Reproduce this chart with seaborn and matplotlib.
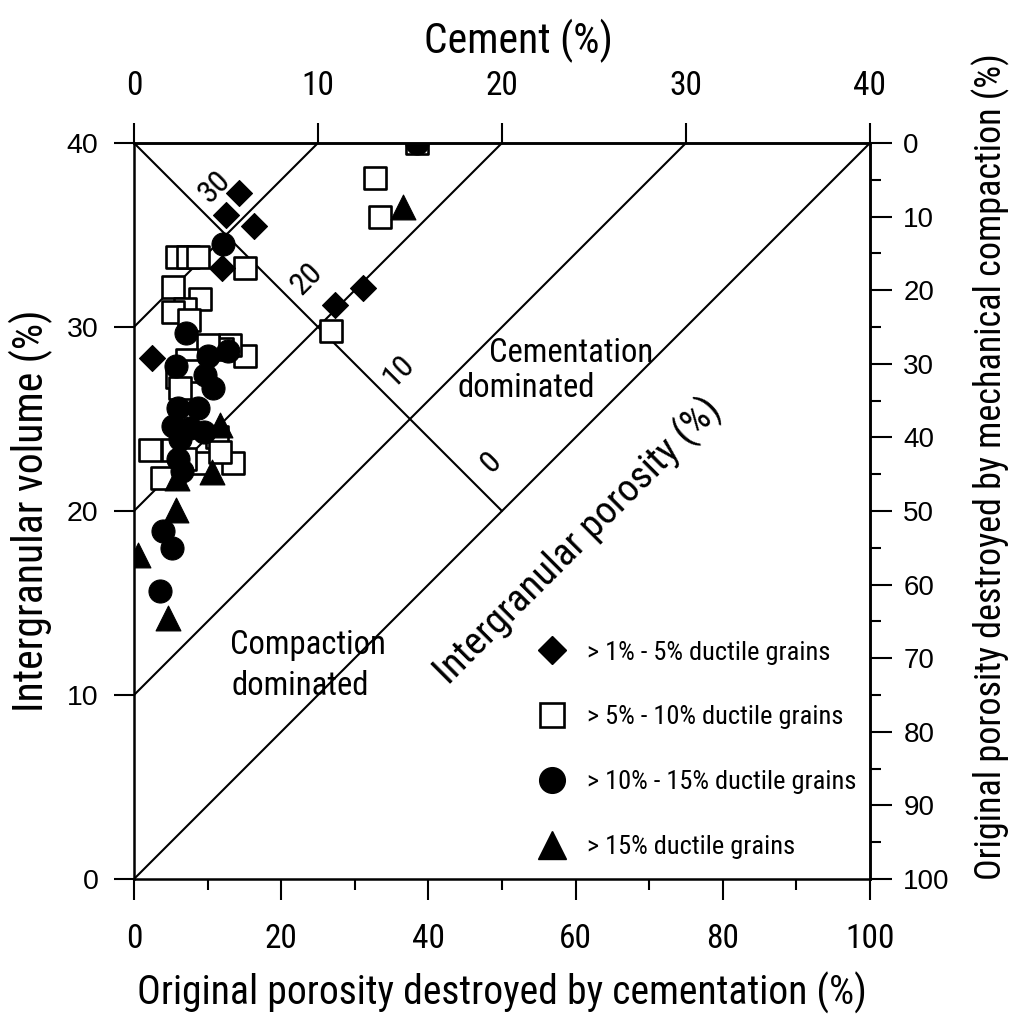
import os
import matplotlib
matplotlib.use("Agg")
import matplotlib.pyplot as plt
from matplotlib import font_manager as fm
from matplotlib.font_manager import FontProperties
from matplotlib.lines import Line2D
import pandas as pd
import seaborn as sns

# ---------------------------------------------------------------------------
# Samples: original porosity destroyed by cementation (%) vs intergranular volume (%)
# ---------------------------------------------------------------------------
diamond_cem = [14.3, 12.5, 16.3, 12.0, 2.4, 27.3, 31.1]
diamond_igv = [37.3, 36.1, 35.5, 33.2, 28.3, 31.2, 32.1]

square_cem = [38.5, 32.8, 33.4, 26.8, 5.8, 7.3, 8.7, 15.1, 5.3, 9.0, 6.9, 5.3,
              7.5, 15.1, 13.0, 12.0, 10.0, 7.2, 5.8, 7.9, 6.2, 2.2, 5.3, 11.3,
              3.8, 9.2, 13.5, 11.7, 7.0]
square_igv = [40.0, 38.1, 36.0, 29.8, 33.8, 33.8, 33.8, 33.2, 32.2, 31.5, 31.0, 30.8,
              30.4, 28.4, 29.0, 28.8, 29.0, 28.2, 27.3, 27.6, 26.7, 23.3, 23.3, 24.0,
              21.8, 22.6, 22.6, 23.2, 22.8]

circle_cem = [38.5, 12.1, 7.1, 5.7, 10.1, 12.8, 9.6, 10.7, 6.0, 8.7, 5.3, 7.6,
              9.5, 6.3, 6.0, 6.5, 3.9, 5.2, 3.5]
circle_igv = [40.0, 34.5, 29.7, 27.9, 28.4, 28.7, 27.4, 26.7, 25.6, 25.6, 24.6, 24.5,
              24.3, 23.9, 22.8, 22.2, 18.9, 18.0, 15.65]

triangle_cem = [36.5, 11.7, 5.8, 10.6, 5.7, 0.5, 4.6]
triangle_igv = [36.5, 24.7, 21.8, 22.1, 20.05, 17.6, 14.2]

group_labels = ["> 1% - 5% ductile grains", "> 5% - 10% ductile grains",
                "> 10% - 15% ductile grains", "> 15% ductile grains"]

# Axis scales
x_ticks = [0, 20, 40, 60, 80, 100]
x_minor = [10, 30, 50, 70, 90]
y_ticks = [0, 10, 20, 30, 40]
cement_ticks = [0, 10, 20, 30, 40]
compaction_ticks = [0, 10, 20, 30, 40, 50, 60, 70, 80, 90, 100]
compaction_minor = [5, 15, 25, 35, 45, 55, 65, 75, 85, 95]

# Reference lines: cement contents and intergranular porosity values
cement_levels = [10, 20, 30, 40]
porosity_labels = [30, 20, 10, 0]

# ---------------------------------------------------------------------------
sns.set_style("ticks")
plt.rcParams.update({
    "text.color": "black",
    "axes.labelcolor": "black",
    "axes.edgecolor": "black",
    "xtick.color": "black",
    "ytick.color": "black",
})


def find_font(candidates):
    files = [(os.path.basename(f.fname).lower(), f.fname) for f in fm.fontManager.ttflist]
    for pattern, scale in candidates:
        for base, path in files:
            if base == pattern:
                return path, scale
    return None, 1.0


narrow_path, NSCALE = find_font([
    ("liberationsansnarrow-regular.ttf", 1.0),
    ("notosans-condensed.ttf", 1.0),
    ("robotocondensed-regular.ttf", 1.0),
    ("notosans-semicondensed.ttf", 0.93),
    ("dejavusanscondensed.ttf", 0.88),
    ("liberationsans-regular.ttf", 0.82),
])
plain_path, _ = find_font([("liberationsans-regular.ttf", 1.0), ("arial.ttf", 1.0)])


def narrow(size):
    if narrow_path:
        return FontProperties(fname=narrow_path, size=size * NSCALE)
    return FontProperties(family="DejaVu Sans", stretch="condensed", size=size * 0.8)


def plain(size):
    if plain_path:
        return FontProperties(fname=plain_path, size=size)
    return FontProperties(family="DejaVu Sans", size=size * 0.9)


fig = plt.figure(figsize=(10.18, 10.25), dpi=100)
ax = fig.add_axes([0.1316, 0.1424, 0.7230, 0.7181])
ax.set_xlim(0, 100)
ax.set_ylim(0, 40)

LINE_W = 1.5
# Constant-cement lines
for c in cement_levels:
    ax.plot([c * 2.5, 0], [40, 40 - c], color="black", lw=LINE_W, zorder=1)
# Intergranular porosity line
ax.plot([0, 50], [40, 20], color="black", lw=LINE_W, zorder=1)
for c, p in zip(cement_levels, porosity_labels):
    ax.annotate(str(p), xy=(1.25 * c, 40 - 0.5 * c), xytext=(-8, 35),
                textcoords="offset points", rotation=45, ha="center", va="center",
                fontproperties=narrow(23))

# Scatter groups
df = pd.concat([
    pd.DataFrame({"cem": square_cem, "igv": square_igv, "grp": group_labels[1]}),
    pd.DataFrame({"cem": circle_cem, "igv": circle_igv, "grp": group_labels[2]}),
    pd.DataFrame({"cem": diamond_cem, "igv": diamond_igv, "grp": group_labels[0]}),
    pd.DataFrame({"cem": triangle_cem, "igv": triangle_igv, "grp": group_labels[3]}),
], ignore_index=True)

styles = {
    group_labels[0]: dict(marker="D", s=175, color="black", edgecolor="black", linewidth=0.8),
    group_labels[1]: dict(marker="s", s=240, color="white", edgecolor="black", linewidth=1.9),
    group_labels[2]: dict(marker="o", s=275, color="black", edgecolor="black", linewidth=0.8),
    group_labels[3]: dict(marker="^", s=320, color="black", edgecolor="black", linewidth=0.8),
}
for grp in [group_labels[1], group_labels[2], group_labels[0], group_labels[3]]:
    sub = df[df["grp"] == grp]
    sns.scatterplot(data=sub, x="cem", y="igv", ax=ax, legend=False, zorder=3,
                    **styles[grp])

# Region annotations
ax.text(59.4, 28.6, "Cementation", ha="center", va="center", fontproperties=narrow(23.5))
ax.text(53.3, 26.7, "dominated", ha="center", va="center", fontproperties=narrow(23.5))
ax.text(13.0, 12.7, "Compaction", ha="left", va="center", fontproperties=narrow(23.5))
ax.text(13.2, 10.5, "dominated", ha="left", va="center", fontproperties=narrow(23.5))
ax.text(60.3, 18.4, "Intergranular porosity (%)", ha="center", va="center",
        rotation=45, rotation_mode="anchor", fontproperties=narrow(28))

# Main axes ticks and labels
ax.set_xticks(x_ticks, labels=[str(v) for v in x_ticks], fontproperties=narrow(24))
ax.set_xticks(x_minor, minor=True)
ax.set_yticks(y_ticks, labels=[str(v) for v in y_ticks], fontproperties=plain(20.5))
ax.tick_params(axis="x", which="major", direction="out", length=15, width=1.5, pad=17)
ax.tick_params(axis="x", which="minor", direction="out", length=8, width=1.5)
ax.tick_params(axis="y", which="major", direction="out", length=14.5, width=1.5, pad=11)
ax.tick_params(axis="y", which="minor", length=0)
ax.set_xlabel("Original porosity destroyed by cementation (%)",
              fontproperties=narrow(28.5), labelpad=12)
ax.set_ylabel("Intergranular volume (%)", fontproperties=narrow(30), labelpad=10)
for sp in ax.spines.values():
    sp.set_visible(True)
    sp.set_linewidth(1.8)
    sp.set_color("black")

# Cement scale on top
secx = ax.secondary_xaxis("top", functions=(lambda x: x * 0.4, lambda c: c / 0.4))
secx.set_ticks(cement_ticks, labels=[str(v) for v in cement_ticks],
               fontproperties=narrow(24))
secx.tick_params(axis="x", which="major", direction="out", length=14.5, width=1.5, pad=15)
secx.tick_params(axis="x", which="minor", length=0)
secx.set_xlabel("Cement (%)", fontproperties=narrow(30), labelpad=12, x=0.523)
secx.spines["top"].set_linewidth(1.8)

# Compaction scale on the right
secy = ax.secondary_yaxis("right", functions=(lambda y: (40 - y) * 2.5,
                                              lambda p: 40 - p / 2.5))
secy.set_ticks(compaction_ticks, labels=[str(v) for v in compaction_ticks],
               fontproperties=plain(20))
secy.set_ticks(compaction_minor, minor=True)
secy.tick_params(axis="y", which="major", direction="out", length=16, width=1.5, pad=8)
secy.tick_params(axis="y", which="minor", direction="out", length=8, width=1.5)
secy.set_ylabel("Original porosity destroyed by mechanical compaction (%)",
                fontproperties=narrow(26), labelpad=16, y=0.56)
secy.spines["right"].set_linewidth(1.8)

# Legend
handles = [
    Line2D([], [], ls="none", marker="D", ms=14.3, mfc="black", mec="black"),
    Line2D([], [], ls="none", marker="s", ms=17.5, mfc="white", mec="black", mew=1.9),
    Line2D([], [], ls="none", marker="o", ms=18.5, mfc="black", mec="black"),
    Line2D([], [], ls="none", marker="^", ms=20, mfc="black", mec="black"),
]
ax.legend(handles, group_labels, loc="upper left", bbox_to_anchor=(0.546, 0.324),
          frameon=False, prop=narrow(19), handlelength=1.2,
          handletextpad=0.75, labelspacing=1.55, borderpad=0, borderaxespad=0)

fig.savefig("out.png", dpi=100, facecolor="white")
